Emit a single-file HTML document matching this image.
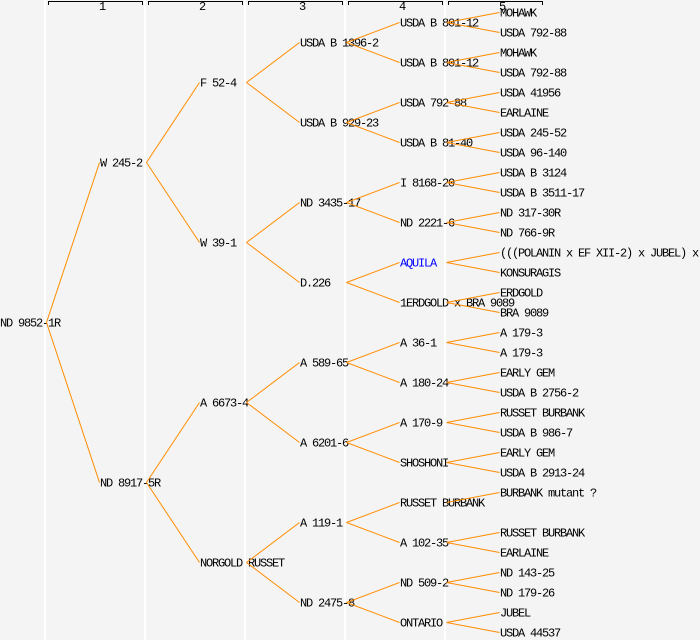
<!DOCTYPE html>
<html><head><meta charset="utf-8"><style>
html,body{margin:0;padding:0;background:#f4f4f4;}
svg{display:block;}
text{font-family:"Liberation Mono",monospace;font-size:12px;letter-spacing:-1.2px;fill:#000;}
</style></head><body>
<svg width="700" height="640" xmlns="http://www.w3.org/2000/svg">
<rect width="700" height="640" fill="#f4f4f4"/>
<g stroke="#fff" stroke-width="2">
<line x1="45" y1="0" x2="45" y2="640"/><line x1="145" y1="0" x2="145" y2="640"/>
<line x1="245" y1="0" x2="245" y2="640"/><line x1="345" y1="0" x2="345" y2="640"/>
<line x1="445" y1="0" x2="445" y2="640"/>
</g>
<g stroke="#000" stroke-width="1" fill="none">
<path d="M48.5 5V1.5H142.5V5"/><path d="M148.5 5V1.5H242.5V5"/><path d="M248.5 5V1.5H342.5V5"/>
<path d="M348.5 5V1.5H442.5V5"/><path d="M448.5 5V1.5H542.5V5"/>
</g>
<g style="font-size:9px;letter-spacing:0"><text x="99" y="10">1</text><text x="199" y="10">2</text><text x="299" y="10">3</text><text x="399" y="10">4</text><text x="499" y="10">5</text></g>
<g id="t"></g>
<g id="l" stroke="#ff8c00" stroke-width="1" fill="none"></g>
</svg>
<script>
var names=[["ND 9852-1R"],["W 245-2","ND 8917-5R"],["F 52-4","W 39-1","A 6673-4","NORGOLD RUSSET"],
["USDA B 1396-2","USDA B 929-23","ND 3435-17","D.226","A 589-65","A 6201-6","A 119-1","ND 2475-8"],
["USDA B 801-12","USDA B 801-12","USDA 792-88","USDA B 81-40","I 8168-20","ND 2221-6","AQUILA","1ERDGOLD x BRA 9089","A 36-1","A 180-24","A 170-9","SHOSHONI","RUSSET BURBANK","A 102-35","ND 509-2","ONTARIO"],
["MOHAWK","USDA 792-88","MOHAWK","USDA 792-88","USDA 41956","EARLAINE","USDA 245-52","USDA 96-140","USDA B 3124","USDA B 3511-17","ND 317-30R","ND 766-9R","(((POLANIN x EF XII-2) x JUBEL) x","KONSURAGIS","ERDGOLD","BRA 9089","A 179-3","A 179-3","EARLY GEM","USDA B 2756-2","RUSSET BURBANK","USDA B 986-7","EARLY GEM","USDA B 2913-24","BURBANK mutant ?","","RUSSET BURBANK","EARLAINE","ND 143-25","ND 179-26","JUBEL","USDA 44537"]];
var NS="http://www.w3.org/2000/svg",T=document.getElementById("t"),L=document.getElementById("l");
function yc(g,i){var s=640/Math.pow(2,g);return 2+s*i+s/2;}
for(var g=0;g<6;g++)for(var i=0;i<names[g].length;i++){
 var n=names[g][i];if(!n)continue;var y=yc(g,i);
 var t=document.createElementNS(NS,"text");t.setAttribute("x",g*100);t.setAttribute("y",y+4.5);
 if(n=="AQUILA")t.setAttribute("style","fill:#0000ff");t.textContent=n;T.appendChild(t);
 if(g<5)for(var k=0;k<2;k++){var c=names[g+1][2*i+k];if(!c)continue;
  var p=document.createElementNS(NS,"line");p.setAttribute("x1",g*100+46.5);p.setAttribute("y1",y+0.5);
  p.setAttribute("x2",g*100+99.5);p.setAttribute("y2",yc(g+1,2*i+k)+0.5);L.appendChild(p);}
}
</script>
</body></html>
